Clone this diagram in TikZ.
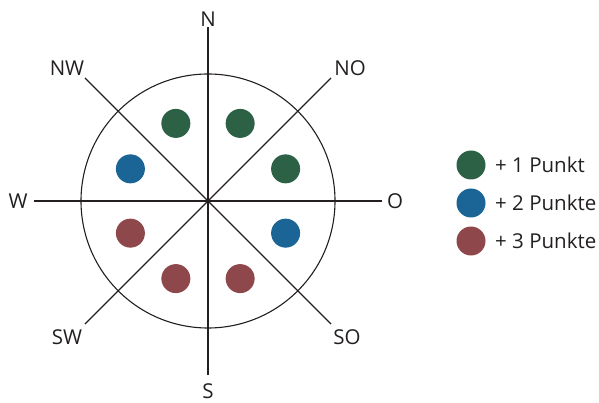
\documentclass[tikz,border=0pt]{standalone}
\usepackage{fontspec}
\setmainfont{Open Sans}
\usetikzlibrary{calc}
\definecolor{txt}{HTML}{231F20}
\definecolor{dgreen}{HTML}{2C6146}
\definecolor{dblue}{HTML}{1A6496}
\definecolor{dred}{HTML}{8E474B}
\begin{document}
\begin{tikzpicture}[x=1pt,y=-1pt,
  axis/.style={draw=txt,line width=1.1pt},
  dir/.style={text=txt,font=\fontsize{20.5}{24}\selectfont,inner sep=0pt},
  dot/.style={circle,minimum size=29pt,inner sep=0pt},
  legtext/.style={text=txt,font=\fontsize{20.5}{24}\selectfont,anchor=west,inner sep=0pt}]
\useasboundingbox (0,0) rectangle (599,403);
\coordinate (c) at (208,201);
\node[circle,draw=txt,line width=1.1pt,minimum size=254pt,inner sep=0pt] (ring) at (c) {};
\foreach \n/\a in {eN/90,eNO/45,eO/0,eSO/-45,eS/-90,eSW/-135,eW/180,eNW/135}{
  \coordinate (\n) at ($(c)+(\a:174pt)$);
}
\draw[axis] (eN) -- (eS);
\draw[axis] (eW) -- (eO);
\draw[axis] (eNW) -- (eSO);
\draw[axis] (eNO) -- (eSW);
\node[dir] (lN) at (208,19) {N};
\node[dir] (lS) at (208,391) {S};
\node[dir] (lW) at (18,201) {W};
\node[dir] (lO) at (395,201) {O};
\node[dir] (lNW) at (67,68) {NW};
\node[dir] (lNO) at (350,68) {NO};
\node[dir] (lSW) at (67,337) {SW};
\node[dir] (lSO) at (347,337) {SO};
\foreach \n/\a/\col in {g1/112.5/dgreen,g2/67.5/dgreen,g3/22.5/dgreen,b1/157.5/dblue,b2/-22.5/dblue,r1/202.5/dred,r2/247.5/dred,r3/292.5/dred}{
  \node[dot,fill=\col] (\n) at ($(c)+(\a:84pt)$) {};
}
\node[dot,fill=dgreen] (k1) at (471,165) {};
\node[dot,fill=dblue] (k2) at (471,203) {};
\node[dot,fill=dred] (k3) at (471,241) {};
\node[legtext] (t1) at (495,165) {+ 1 Punkt};
\node[legtext] (t2) at (495,203) {+ 2 Punkte};
\node[legtext] (t3) at (495,241) {+ 3 Punkte};
\end{tikzpicture}
\end{document}
